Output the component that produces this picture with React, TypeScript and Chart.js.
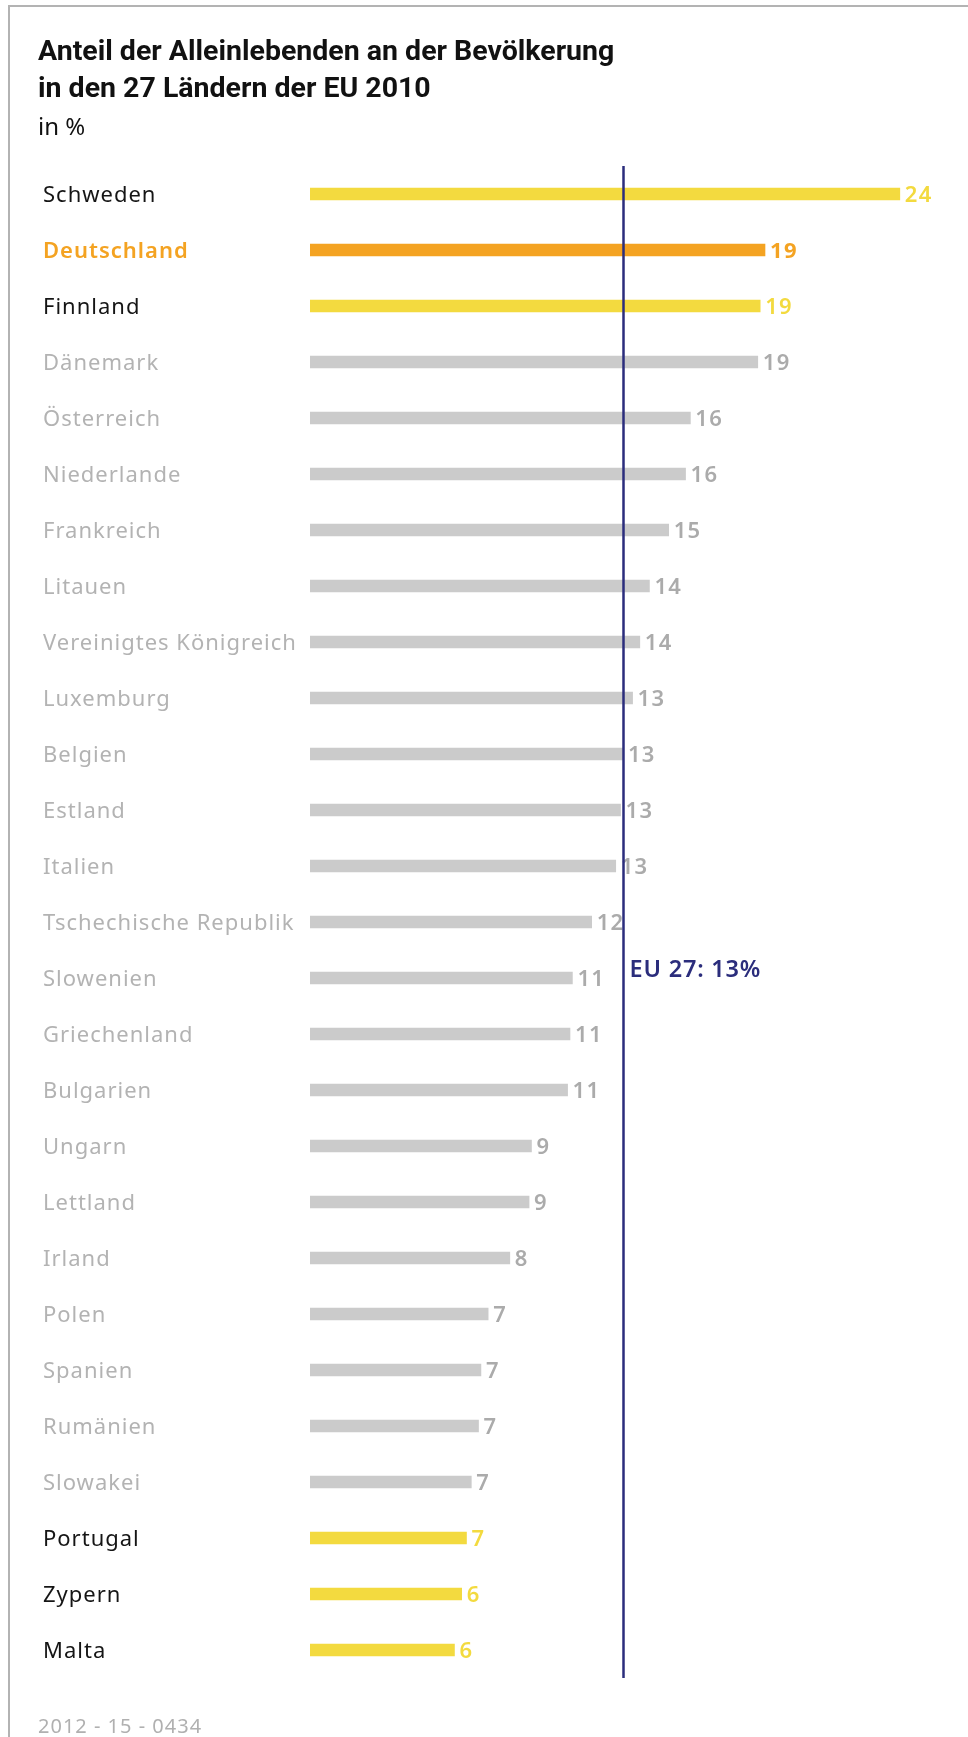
import React, { useEffect, useRef } from 'react';
import { Chart, registerables } from 'chart.js';

Chart.register(...registerables);

const titleLine1 = 'Anteil der Alleinlebenden an der Bevölkerung';
const titleLine2 = 'in den 27 Ländern der EU 2010';
const unitLabel = 'in %';
const footerCode = '2012 - 15 - 0434';

const countries = [
  'Schweden', 'Deutschland', 'Finnland', 'Dänemark', 'Österreich', 'Niederlande',
  'Frankreich', 'Litauen', 'Vereinigtes Königreich', 'Luxemburg', 'Belgien', 'Estland',
  'Italien', 'Tschechische Republik', 'Slowenien', 'Griechenland', 'Bulgarien', 'Ungarn',
  'Lettland', 'Irland', 'Polen', 'Spanien', 'Rumänien', 'Slowakei', 'Portugal', 'Zypern', 'Malta',
];
const shares = [
  24.5, 18.9, 18.7, 18.6, 15.8, 15.6, 14.9, 14.1, 13.7, 13.4, 13.0, 12.9, 12.7, 11.7,
  10.9, 10.8, 10.7, 9.2, 9.1, 8.3, 7.4, 7.1, 7.0, 6.7, 6.5, 6.3, 6.0,
];
const shareLabels = [
  '24', '19', '19', '19', '16', '16', '15', '14', '14', '13', '13', '13', '13', '12',
  '11', '11', '11', '9', '9', '8', '7', '7', '7', '7', '7', '6', '6',
];
// g = grey, y = yellow highlight, o = Germany
const groups = [
  'y', 'o', 'y', 'g', 'g', 'g', 'g', 'g', 'g', 'g', 'g', 'g', 'g', 'g',
  'g', 'g', 'g', 'g', 'g', 'g', 'g', 'g', 'g', 'g', 'y', 'y', 'y',
];
const euAverage = 13;
const euLabel = 'EU 27: 13%';
const xMax = 27;

const barColors: Record<string, string> = { g: '#cbcbcb', y: '#f3da3f', o: '#f4a322' };
const valueColors: Record<string, string> = { g: '#ababab', y: '#f3da3f', o: '#f4a322' };
const nameColors: Record<string, string> = { g: '#b3b3b3', y: '#151515', o: '#f4a322' };
const navy = '#2b2d7c';
const FONT = "'Noto Sans', 'DejaVu Sans', sans-serif";

export default function App() {
  const canvasRef = useRef<HTMLCanvasElement | null>(null);

  useEffect(() => {
    const canvas = canvasRef.current;
    if (!canvas) return;

    const spacingPlugin = {
      id: 'spacing',
      beforeDraw(chart: any) {
        chart.ctx.letterSpacing = '1px';
      },
      afterDraw(chart: any) {
        chart.ctx.letterSpacing = '0px';
      },
    };

    const overlayPlugin = {
      id: 'overlay',
      afterDatasetsDraw(chart: any) {
        const { ctx, chartArea, scales } = chart;
        const meta = chart.getDatasetMeta(0);
        ctx.save();
        // value labels
        ctx.letterSpacing = '1.3px';
        ctx.textBaseline = 'middle';
        ctx.textAlign = 'left';
        meta.data.forEach((bar: any, i: number) => {
          const g = groups[i];
          ctx.font = `${g === 'o' ? 700 : 600} 22px ${FONT}`;
          ctx.fillStyle = valueColors[g];
          ctx.fillText(shareLabels[i], bar.x + 5, bar.y + 2);
        });
        // EU average line
        const x = Math.round(scales.x.getPixelForValue(euAverage)) + 0.5;
        ctx.strokeStyle = navy;
        ctx.lineWidth = 2.5;
        ctx.beginPath();
        ctx.moveTo(x, chartArea.top);
        ctx.lineTo(x, chartArea.bottom);
        ctx.stroke();
        ctx.letterSpacing = '0.8px';
        ctx.font = `600 23.5px ${FONT}`;
        ctx.fillStyle = navy;
        const yEu = scales.y.getPixelForValue(14) - 8;
        ctx.fillText(euLabel, x + 6, yEu);
        ctx.restore();
      },
    };

    const chart = new Chart(canvas, {
      type: 'bar',
      data: {
        labels: countries,
        datasets: [
          {
            data: shares,
            backgroundColor: groups.map((g) => barColors[g]),
            borderWidth: 0,
            barThickness: 12,
          },
        ],
      },
      options: {
        indexAxis: 'y',
        responsive: false,
        animation: false,
        devicePixelRatio: 1,
        layout: { padding: { left: 43, top: 166, right: 8, bottom: 59 } },
        plugins: { legend: { display: false }, tooltip: { enabled: false }, title: { display: false } },
        scales: {
          x: { type: 'linear', min: 0, max: xMax, display: false },
          y: {
            type: 'category',
            grid: { display: false },
            border: { display: false },
            afterFit: (scale: any) => {
              scale.width = 267;
            },
            ticks: {
              autoSkip: false,
              crossAlign: 'far',
              padding: 0,
              labelOffset: 2,
              color: (ctx: any) => nameColors[groups[ctx.index]],
              font: (ctx: any) => ({
                family: FONT,
                size: 22,
                weight: groups[ctx.index] === 'o' ? 600 : 'normal',
              }),
            },
          },
        },
      },
      plugins: [spacingPlugin, overlayPlugin],
    } as any);

    return () => chart.destroy();
  }, []);

  return (
    <div
      style={{
        position: 'absolute',
        left: 0,
        top: 0,
        width: 968,
        height: 1737,
        overflow: 'hidden',
        background: '#ffffff',
      }}
    >
      <div
        style={{
          position: 'absolute',
          left: 8,
          top: 5,
          width: 960,
          height: 1732,
          borderTop: '2px solid #b3b3b3',
          borderLeft: '2px solid #b3b3b3',
          boxSizing: 'border-box',
        }}
      />
      <canvas
        ref={canvasRef}
        width={968}
        height={1737}
        style={{ position: 'absolute', left: 0, top: 0, width: 968, height: 1737 }}
      />
      <div
        style={{
          position: 'absolute',
          left: 38,
          top: 31.5,
          fontFamily: 'Roboto, sans-serif',
          fontWeight: 700,
          fontSize: 28.5,
          lineHeight: '37px',
          color: '#111111',
          whiteSpace: 'nowrap',
        }}
      >
        <div>{titleLine1}</div>
        <div>{titleLine2}</div>
      </div>
      <div
        style={{
          position: 'absolute',
          left: 38,
          top: 113.5,
          fontFamily: FONT,
          fontSize: 24,
          lineHeight: '24px',
          color: '#111111',
        }}
      >
        {unitLabel}
      </div>
      <div
        style={{
          position: 'absolute',
          left: 38,
          top: 1716,
          fontFamily: FONT,
          fontSize: 20,
          lineHeight: '20px',
          color: '#b0b0b0',
          letterSpacing: '1px',
          whiteSpace: 'nowrap',
        }}
      >
        {footerCode}
      </div>
    </div>
  );
}
